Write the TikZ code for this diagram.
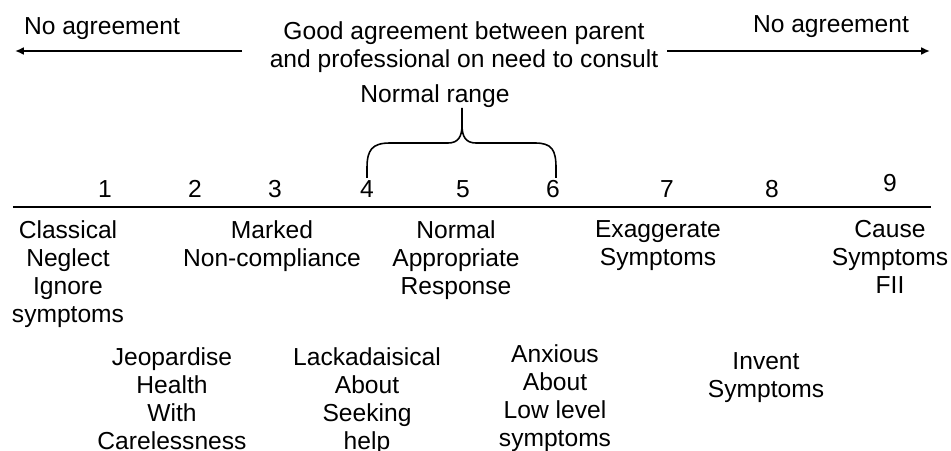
\documentclass[tikz,border=0pt]{standalone}
\usepackage{fontspec}
\setmainfont{Liberation Sans}
\usetikzlibrary{arrows.meta}
\tikzset{
  lbl/.style={align=center, inner sep=0pt, anchor=north, font=\fontsize{14}{15.9}\selectfont},
  num/.style={inner sep=0pt, anchor=base, font=\fontsize{14}{15.9}\selectfont},
  scaleline/.style={line width=1.1pt},
  agreearrow/.style={line width=1.1pt, -{Latex[length=5pt,width=4.5pt]}},
  rangebrace/.style={line width=0.9pt, line join=round}
}
\begin{document}
\begin{tikzpicture}
\useasboundingbox (0,0) rectangle (19.02,9);
% top row
\node (noleft) at (2.04,8.30)[num]{No agreement};
\node (noright) at (16.62,8.34)[num]{No agreement};
\node (good) at (9.28,8.58)[lbl]{Good agreement between parent\\and professional on need to consult};
\coordinate (lstart) at (4.84,7.98);
\coordinate (lend) at (0.30,7.98);
\coordinate (rstart) at (13.34,7.98);
\coordinate (rend) at (18.60,7.98);
\draw[agreearrow] (lstart) -- (lend);
\draw[agreearrow] (rstart) -- (rend);
% normal range brace
\node (range) at (8.70,6.94)[num]{Normal range};
\draw[rangebrace] (7.34,5.44) -- (7.34,5.64) .. controls (7.34,6.00) and (7.44,6.14) .. (7.80,6.14)
   -- (8.96,6.14) .. controls (9.16,6.14) and (9.24,6.26) .. (9.24,6.50) -- (9.24,6.84);
\draw[rangebrace] (9.24,6.50) .. controls (9.24,6.26) and (9.32,6.14) .. (9.52,6.14)
   -- (10.70,6.14) .. controls (11.04,6.14) and (11.12,6.00) .. (11.12,5.64) -- (11.12,5.44);
% scale
\foreach \n/\x/\y in {1/2.10/5.04,2/3.90/5.04,3/5.50/5.04,4/7.34/5.04,5/9.26/5.04,6/11.06/5.04,7/13.34/5.04,8/15.44/5.04,9/17.80/5.16}
    \node (n\n) at (\x,\y)[num]{\n};
\coordinate (sleft) at (0.26,4.86);
\coordinate (sright) at (18.62,4.86);
\draw[scaleline] (sleft) -- (sright);
% first row of behaviours
\node (neglect) at (1.36,4.60)[lbl]{Classical\\Neglect\\Ignore\\symptoms};
\node (marked) at (5.44,4.60)[lbl]{Marked\\Non-compliance};
\node (normal) at (9.12,4.60)[lbl]{Normal\\Appropriate\\Response};
\node (exagg) at (13.16,4.60)[lbl]{Exaggerate\\Symptoms};
\node (cause) at (17.80,4.60)[lbl]{Cause\\Symptoms\\FII};
% second row
\node (jeop) at (3.44,2.06)[lbl]{Jeopardise\\Health\\With\\Carelessness};
\node (lack) at (7.34,2.06)[lbl]{Lackadaisical\\About\\Seeking\\help};
\node (anx) at (11.10,2.12)[lbl]{Anxious\\About\\Low level\\symptoms};
\node (invent) at (15.32,1.96)[lbl]{Invent\\Symptoms};
\end{tikzpicture}
\end{document}
